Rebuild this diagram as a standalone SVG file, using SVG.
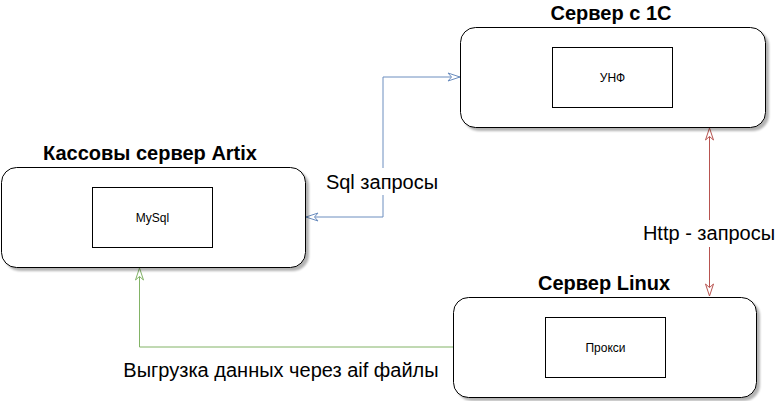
<svg xmlns="http://www.w3.org/2000/svg" width="775" height="401" viewBox="0 0 775 401">
<defs>
<filter id="sh" x="-10%" y="-10%" width="120%" height="130%">
<feGaussianBlur in="SourceAlpha" stdDeviation="1"/>
<feOffset dx="3" dy="3" result="b"/>
<feComponentTransfer><feFuncA type="linear" slope="0.3"/></feComponentTransfer>
<feMerge><feMergeNode/><feMergeNode in="SourceGraphic"/></feMerge>
</filter>
<marker id="mb" viewBox="0 0 14 10" refX="13" refY="5" markerWidth="14" markerHeight="10" markerUnits="userSpaceOnUse" orient="auto-start-reverse">
<path d="M1,1 L13,5 L1,9 L4.5,5 Z" fill="#fff" stroke="#6c8ebf" stroke-width="1"/>
</marker>
<marker id="mr" viewBox="0 0 14 10" refX="13" refY="5" markerWidth="14" markerHeight="10" markerUnits="userSpaceOnUse" orient="auto-start-reverse">
<path d="M1,1 L13,5 L1,9 L4.5,5 Z" fill="#fff" stroke="#b85450" stroke-width="1"/>
</marker>
<marker id="mg" viewBox="0 0 14 10" refX="13" refY="5" markerWidth="14" markerHeight="10" markerUnits="userSpaceOnUse" orient="auto-start-reverse">
<path d="M1,1 L13,5 L1,9 L4.5,5 Z" fill="#fff" stroke="#82b366" stroke-width="1"/>
</marker>
</defs>
<style>
.srv{fill:#fff;stroke:#000;stroke-width:1;filter:url(#sh)}
.inner{fill:#fff;stroke:#000;stroke-width:1}
.title{font-family:"Liberation Sans",Arial,sans-serif;font-weight:bold;font-size:20px;text-anchor:middle;fill:#000}
.small{font-family:"Liberation Sans",Arial,sans-serif;font-size:12px;text-anchor:middle;fill:#000}
.lbl{font-family:"Liberation Sans",Arial,sans-serif;font-size:20px;text-anchor:middle;fill:#000}
.edge{fill:none;stroke-width:1}
</style>
<g id="connectors">
<path class="edge" d="M306,217 L383,217 L383,77 L460,77" stroke="#6c8ebf" marker-start="url(#mb)" marker-end="url(#mb)"/>
<rect x="323" y="168" width="118" height="27" fill="#fff"/>
<text class="lbl" x="382" y="189">Sql запросы</text>
<path class="edge" d="M709.5,128 L709.5,296" stroke="#b85450" marker-start="url(#mr)" marker-end="url(#mr)"/>
<rect x="640" y="220" width="135" height="27" fill="#fff"/>
<text class="lbl" x="709" y="240">Http - запросы</text>
<path class="edge" d="M453,347 L139.5,347 L139.5,268" stroke="#82b366" marker-end="url(#mg)"/>
<text class="lbl" x="281" y="377">Выгрузка данных через aif файлы</text>
</g>
<g id="artix">
<rect class="srv" x="1.5" y="167.5" width="304" height="100" rx="15"/>
<text class="title" x="150" y="160">Кассовы сервер Artix</text>
<rect class="inner" x="92.5" y="187.5" width="120" height="60"/>
<text class="small" x="152.5" y="222">MySql</text>
</g>
<g id="server1c">
<rect class="srv" x="460.5" y="27.5" width="305" height="100" rx="15"/>
<text class="title" x="611" y="20">Сервер с 1С</text>
<rect class="inner" x="552.5" y="47.5" width="120" height="60"/>
<text class="small" x="612.5" y="82">УНФ</text>
</g>
<g id="linux">
<rect class="srv" x="453.5" y="297.5" width="303" height="100" rx="15"/>
<text class="title" x="604" y="290">Сервер Linux</text>
<rect class="inner" x="545.5" y="317.5" width="120" height="60"/>
<text class="small" x="605.5" y="352">Прокси</text>
</g>
</svg>
